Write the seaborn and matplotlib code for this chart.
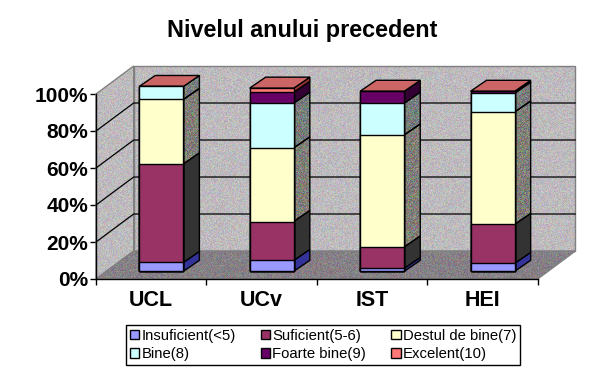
import matplotlib
matplotlib.use("Agg")
import matplotlib.pyplot as plt
import numpy as np
import pandas as pd
import seaborn as sns
from matplotlib.patches import Patch, Polygon
from matplotlib.path import Path
from matplotlib.transforms import Affine2D, IdentityTransform

W, H = 605, 377

categories = ["UCL", "UCv", "IST", "HEI"]
series_names = ["Insuficient(<5)", "Suficient(5-6)", "Destul de bine(7)",
                "Bine(8)", "Foarte bine(9)", "Excelent(10)"]

insuficient = [4.8, 5.9, 1.6, 4.3]
suficient = [53.2, 21.0, 11.5, 21.0]
destul = [34.9, 39.8, 60.6, 60.8]
bine = [7.0, 24.2, 17.2, 10.2]
foarte_bine = [0.0, 5.9, 6.4, 1.0]
excelent = [0.0, 2.2, 0.0, 0.0]

y_ticks = [0, 20, 40, 60, 80, 100]

front_colors = ["#9999FF", "#993366", "#FFFFCC", "#CCFFFF", "#660066", "#FF7777"]
side_colors = ["#333399", "#333333", "#807F78", "#787D7D", "#330033", "#993333"]
side_noise = [0, 0, 70, 70, 0, 0]
top_color = "#CC6666"

# oblique offsets in pixels, front plane to back wall
WALL_DX, WALL_DY = 37.7, 28
BAR_DX, BAR_DY = 10.1, 7.7
BAR_DEPTH_X, BAR_DEPTH_Y = 16, 11
BAR_WIDTH = 0.4

sns.set_style("ticks")
plt.rcParams["font.family"] = ["Liberation Sans", "DejaVu Sans"]
plt.rcParams["text.color"] = "black"
plt.rcParams["xtick.labelcolor"] = "black"
plt.rcParams["ytick.labelcolor"] = "black"

fig = plt.figure(figsize=(W / 100, H / 100), dpi=100, facecolor="white")
ax = fig.add_axes([96 / W, (H - 279) / H, 441.7 / W, 185 / H])
ax.set_facecolor("none")


def noise(base, amp):
    # per pixel dither, looks like the old 256 colour export
    yy, xx = np.mgrid[0:H, 0:W]
    img = np.zeros((H, W, 3))
    rgb = matplotlib.colors.to_rgb(base)
    for c, seed in enumerate([12.9898, 39.346, 73.156]):
        v = np.sin(xx * seed + yy * 78.233 + c) * 43758.5453
        img[:, :, c] = rgb[c] + (v - np.floor(v) - 0.5) * amp / 255
    return np.clip(img, 0, 1)


def textured(pts, base, amp, z, edge=None):
    pts = np.array(pts)
    im = ax.imshow(noise(base, amp), extent=(0, W, 0, H), origin="lower", aspect="auto",
                   interpolation="nearest", transform=IdentityTransform(), zorder=z)
    im.set_clip_box(fig.bbox)
    im.set_clip_path(Path(np.vstack([pts, pts[0]])), IdentityTransform())
    if edge:
        ax.add_patch(Polygon(pts, closed=True, fc="none", ec=edge, lw=1, zorder=z + 0.1,
                             transform=IdentityTransform(), clip_on=False))


cum = np.cumsum([insuficient, suficient, destul, bine, foarte_bine, excelent], axis=0)
x = np.arange(len(categories))

ax.set_xlim(-0.5, 3.5)
ax.set_ylim(0, 100)


def px(xv, yv, dx=0, dy=0):
    p = ax.transData.transform((xv, yv))
    return (p[0] + dx, p[1] + dy)


# walls and floor
textured([px(-0.5, 0, WALL_DX, WALL_DY), px(3.5, 0, WALL_DX, WALL_DY),
          px(3.5, 100, WALL_DX, WALL_DY), px(-0.5, 100, WALL_DX, WALL_DY)],
         "#BEBBBE", 42, 1, edge="#808080")
textured([px(-0.5, 0), px(-0.5, 0, WALL_DX, WALL_DY),
          px(-0.5, 100, WALL_DX, WALL_DY), px(-0.5, 100)],
         "#BEBBBE", 42, 1, edge="#808080")
textured([px(-0.5, 0), px(3.5, 0), px(3.5, 0, WALL_DX, WALL_DY), px(-0.5, 0, WALL_DX, WALL_DY)],
         "#868086", 45, 1.5, edge="#808080")

for v in y_ticks[1:-1]:
    line = np.array([px(-0.5, v), px(-0.5, v, WALL_DX, WALL_DY), px(3.5, v, WALL_DX, WALL_DY)])
    ax.plot(line[:, 0], line[:, 1], color="black", lw=0.9, transform=IdentityTransform(),
            zorder=2, clip_on=False)

# bar sides and tops
d0 = (BAR_DX, BAR_DY)
d1 = (BAR_DX + BAR_DEPTH_X, BAR_DY + BAR_DEPTH_Y)
for s in range(len(series_names)):
    for i in x:
        lo = cum[s - 1][i] if s > 0 else 0
        hi = cum[s][i]
        if hi - lo <= 0:
            continue
        xr = i + BAR_WIDTH / 2
        pts = [px(xr, lo, *d0), px(xr, lo, *d1), px(xr, hi, *d1), px(xr, hi, *d0)]
        if side_noise[s]:
            textured(pts, side_colors[s], side_noise[s], 3, edge="black")
        else:
            ax.add_patch(Polygon(pts, closed=True, fc=side_colors[s], ec="black", lw=1, zorder=3.2,
                                 transform=IdentityTransform(), clip_on=False))
for i in x:
    xl, xr = i - BAR_WIDTH / 2, i + BAR_WIDTH / 2
    t = cum[-1][i]
    ax.add_patch(Polygon([px(xl, t, *d0), px(xr, t, *d0), px(xr, t, *d1), px(xl, t, *d1)],
                         closed=True, fc=top_color, ec="black", lw=1, zorder=3.5,
                         transform=IdentityTransform(), clip_on=False))

# front faces, tallest stack first so the lower ones paint over it
for s in reversed(range(len(series_names))):
    df = pd.DataFrame({"cat": categories, "top": cum[s]})
    n_before = len(ax.patches)
    sns.barplot(data=df, x="cat", y="top", color=front_colors[s], saturation=1, width=BAR_WIDTH,
                edgecolor="black", linewidth=1, ax=ax, zorder=4 + (5 - s) * 0.1)
    for p in ax.patches[n_before:]:
        p.set_transform(ax.transData + Affine2D().translate(BAR_DX, BAR_DY))
        p.set_clip_on(False)

ax.set_xlim(-0.5, 3.5)
ax.set_ylim(0, 100)
ax.set_xlabel("")
ax.set_ylabel("")

for side in ["top", "right"]:
    ax.spines[side].set_visible(False)
for side in ["left", "bottom"]:
    ax.spines[side].set_linewidth(1)
    ax.spines[side].set_color("black")
    ax.spines[side].set_zorder(2.5)

ax.set_yticks(y_ticks)
ax.set_yticklabels([f"{v}%" for v in y_ticks], fontsize=15, fontweight="bold", color="black")
ax.set_xticks(np.arange(-0.5, 4, 1))
ax.set_xticklabels([])
ax.set_xticks(x, minor=True)
ax.set_xticklabels(categories, minor=True, fontsize=15.5, fontweight="bold", color="black")
ax.tick_params(axis="x", which="major", length=4, width=1, color="black")
ax.tick_params(axis="x", which="minor", length=0, pad=8)
ax.tick_params(axis="y", length=4, width=1, pad=1.5, color="black")

fig.text(302.5 / W, 1 - 30 / H, "Nivelul anului precedent", ha="center", va="center",
         fontsize=16.8, fontweight="bold", color="black")

handles = [Patch(fc=c, ec="black", lw=1, label=n) for c, n in zip(front_colors, series_names)]
order = [0, 3, 1, 4, 2, 5]
leg = fig.legend(handles=[handles[j] for j in order], ncol=3, loc="center",
                 bbox_to_anchor=(323 / W, 1 - 345 / H), fontsize=10.7, frameon=True,
                 fancybox=False, edgecolor="black", framealpha=1, borderpad=0.25,
                 handlelength=0.62, handleheight=0.62, handletextpad=0.15, columnspacing=1.7,
                 labelspacing=0.3, labelcolor="black")
leg.get_frame().set_linewidth(1)

fig.savefig("out.png", dpi=100)
